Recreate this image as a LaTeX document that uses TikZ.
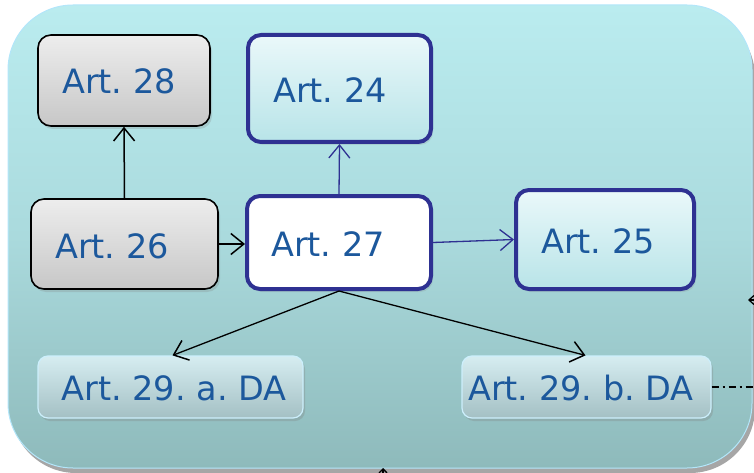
\documentclass[tikz,border=0pt]{standalone}
\usepackage{fontspec}
\setmainfont{DejaVu Sans}
\usetikzlibrary{arrows.meta,shadows,calc}
\frenchspacing
\definecolor{txtblue}{RGB}{28,88,156}
\definecolor{bordblue}{RGB}{46,49,146}
\definecolor{bgtop}{RGB}{186,236,239}
\definecolor{bgmid}{RGB}{170,218,221}
\definecolor{bgbot}{RGB}{142,186,187}
\definecolor{bxtop}{RGB}{234,248,250}
\definecolor{bxbot}{RGB}{184,228,232}
\tikzset{
  boxbase/.style={rounded corners=13pt, inner sep=0pt},
  greybox/.style={boxbase, draw=black, line width=1.6pt, top color=black!7, bottom color=black!22,
     drop shadow={opacity=0.25, shadow xshift=2pt, shadow yshift=-3pt}},
  bluebox/.style={boxbase, draw=bordblue, line width=4pt, top color=bxtop, bottom color=bxbot,
     drop shadow={opacity=0.2, shadow xshift=2pt, shadow yshift=-3pt}},
  whitebox/.style={boxbase, draw=bordblue, line width=4pt, fill=white,
     drop shadow={opacity=0.2, shadow xshift=2pt, shadow yshift=-3pt}},
  softbox/.style={rounded corners=10pt, inner sep=0pt, draw=white!80!cyan, line width=1.2pt,
     top color={rgb,255:red,214;green,237;blue,241}, bottom color={rgb,255:red,164;green,192;blue,196},
     drop shadow={opacity=0.3, shadow xshift=2pt, shadow yshift=-3pt}},
  lbl/.style={text=txtblue, font=\fontsize{33.5}{40}\selectfont, inner sep=0pt},
  blk/.style={draw=black, line width=1.5pt, -{Straight Barb[length=13pt,width=21pt,line width=1.5pt]}},
  blu/.style={draw=bordblue, line width=1.3pt, -{Straight Barb[length=13pt,width=21pt,line width=1.3pt]}},
}
\begin{document}
\begin{tikzpicture}[x=1pt,y=-1pt]
\useasboundingbox (0,0) rectangle (754,473);
% background panel
\fill[black!35] (11,12) [rounded corners=65pt] rectangle (755,473);
\shade[rounded corners=65pt, top color=bgtop, bottom color=bgbot, middle color=bgmid, draw=white!70!cyan, line width=1pt]
  (8,5) rectangle (752,468);
% boxes
\node[greybox, minimum width=172pt, minimum height=91pt] (a28) at (124,80.5) {};
\node[bluebox, minimum width=183pt, minimum height=107pt] (a24) at (339.5,88.5) {};
\node[greybox, minimum width=187pt, minimum height=90pt] (a26) at (124.5,244) {};
\node[whitebox, minimum width=184pt, minimum height=93pt] (a27) at (339,242.5) {};
\node[bluebox, minimum width=178pt, minimum height=99pt] (a25) at (605,239.5) {};
\node[softbox, minimum width=265pt, minimum height=62pt] (a29a) at (170.5,387) {};
\node[softbox, minimum width=249pt, minimum height=62pt] (a29b) at (586.5,387) {};
% labels
\node[lbl] (t28) at (119,81) {Art. 28};
\node[lbl] (t24) at (330,90) {Art. 24};
\node[lbl] (t26) at (112,246) {Art. 26};
\node[lbl] (t27) at (328,244) {Art. 27};
\node[lbl] (t25) at (598,241) {Art. 25};
\node[lbl] (t29a) at (174,388) {Art. 29. a. DA};
\node[lbl] (t29b) at (581,388) {Art. 29. b. DA};
% connectors
\draw[blk] (a26.north) -- (a28.south);
\draw[blk] (a26.east) -- (a27.west |- a26.east);
\draw[blu] (a27.north) -- (a24.south);
\draw[blu] (a27.east) -- (a25.west);
\draw[blk, line width=1.3pt] (a27.south) -- ($(a29a.north)+(2,0)$);
\draw[blk, line width=1.3pt] (a27.south) -- ($(a29b.north)+(-1,0)$);
% partial connectors at the edges
\coordinate (re) at (780,300);
\coordinate (rt) at (748,300);
\draw[draw=black, line width=1.3pt, -{Straight Barb[length=5pt,width=9pt]}] (re) -- (rt);
\coordinate (be) at (383,495);
\coordinate (bt) at (383,468);
\draw[draw=black, line width=1.3pt, -{Straight Barb[length=4pt,width=8pt]}] (be) -- (bt);
\coordinate (de) at (760,387);
\draw[draw=black, line width=1.3pt, dash pattern=on 7pt off 4pt on 2pt off 4pt] (a29b.east) -- (de);
\end{tikzpicture}
\end{document}
